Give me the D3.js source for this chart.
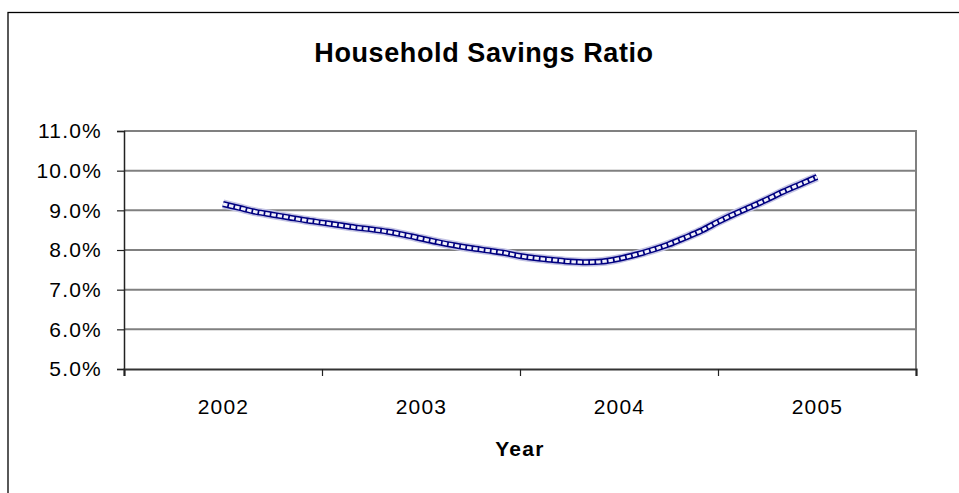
<!DOCTYPE html>
<html>
<head>
<meta charset="utf-8">
<script src="https://cdn.jsdelivr.net/npm/d3@7"></script>
<style>
  html, body { margin: 0; padding: 0; background: #fff; }
  svg { display: block; }
  text { font-family: Arial, "Liberation Sans", sans-serif; fill: #000; }
</style>
</head>
<body>
<svg id="chart" width="959" height="493"></svg>
<script>
// ---- Data ----
const title = "Household Savings Ratio";
const xAxisTitle = "Year";
const categories = [2002, 2003, 2004, 2005];
const yTicks = [5, 6, 7, 8, 9, 10, 11];
// monthly readings, Jan 2002 .. Jan 2005 (percent)
const savingsRatio = [
  9.16, 9.06, 8.96, 8.89, 8.82, 8.75, 8.69, 8.63, 8.57, 8.52, 8.46, 8.38,
  8.29, 8.20, 8.12, 8.05, 7.99, 7.93, 7.85, 7.79, 7.75, 7.71, 7.69, 7.71,
  7.78, 7.88, 8.00, 8.14, 8.31, 8.49, 8.71, 8.91, 9.09, 9.28, 9.48, 9.66,
  9.84
];

// ---- Layout ----
const svg = d3.select("#chart");
const W = 959, H = 493;
const plot = { left: 124, right: 916, top: 131, bottom: 369 };

svg.append("rect").attr("x", 0).attr("y", 0).attr("width", W).attr("height", H).attr("fill", "#fff");

// outer chart border (extends past the visible area on right/bottom)
svg.append("rect")
  .attr("x", 8).attr("y", 12.5).attr("width", 980).attr("height", 520)
  .attr("fill", "none").attr("stroke", "#000").attr("stroke-width", 1.3);

const x = d3.scaleLinear()
  .domain([categories[0] - 0.5, categories[categories.length - 1] + 0.5])
  .range([plot.left, plot.right]);
const y = d3.scaleLinear().domain([5, 11]).range([plot.bottom, plot.top]);

// gridlines
svg.append("g")
  .selectAll("line")
  .data(yTicks.filter(d => d > 5))
  .join("line")
  .attr("x1", plot.left).attr("x2", plot.right)
  .attr("y1", d => y(d)).attr("y2", d => y(d))
  .attr("stroke", "#808080").attr("stroke-width", 2);

// plot area right border
svg.append("line")
  .attr("x1", plot.right).attr("x2", plot.right)
  .attr("y1", plot.top - 1).attr("y2", plot.bottom)
  .attr("stroke", "#808080").attr("stroke-width", 2);

// Y axis
const yAxis = d3.axisLeft(y)
  .tickValues(yTicks)
  .tickSize(7)
  .tickPadding(15)
  .tickFormat(d => d.toFixed(1) + "%");
const gy = svg.append("g").attr("transform", `translate(${plot.left},0)`).call(yAxis);
gy.select(".domain").attr("stroke", "#222").attr("stroke-width", 1.5);
gy.selectAll(".tick line").attr("stroke", "#222").attr("stroke-width", 1.2);
gy.selectAll(".tick text")
  .attr("font-size", 21).attr("font-family", "Arial, 'Liberation Sans', sans-serif")
  .attr("letter-spacing", "1.2px").attr("fill", "#000");

// X axis: boundary ticks
const boundaries = d3.range(categories.length + 1).map(i => categories[0] - 0.5 + i);
const xAxisTicks = d3.axisBottom(x).tickValues(boundaries).tickSize(7).tickFormat("");
const gx = svg.append("g").attr("transform", `translate(0,${plot.bottom})`).call(xAxisTicks);
gx.select(".domain").attr("stroke", "#333").attr("stroke-width", 2.2);
gx.selectAll(".tick line").attr("stroke", "#222").attr("stroke-width", 1.2);

// X axis: category labels
const xAxisLabels = d3.axisBottom(x).tickValues(categories).tickSize(0).tickPadding(30).tickFormat(d => String(d));
const gxl = svg.append("g").attr("transform", `translate(0,${plot.bottom})`).call(xAxisLabels);
gxl.select(".domain").remove();
gxl.selectAll(".tick text")
  .attr("font-size", 21).attr("font-family", "Arial, 'Liberation Sans', sans-serif")
  .attr("letter-spacing", "1.2px").attr("fill", "#000").attr("dy", 0).attr("y", 45);

// title
svg.append("text")
  .attr("x", 484).attr("y", 62)
  .attr("text-anchor", "middle")
  .attr("font-size", 27).attr("font-weight", "bold")
  .attr("letter-spacing", "0.6px")
  .text(title);

// x axis title
svg.append("text")
  .attr("x", (plot.left + plot.right) / 2).attr("y", 456)
  .attr("text-anchor", "middle")
  .attr("font-size", 21).attr("font-weight", "bold")
  .attr("letter-spacing", "1.3px")
  .text(xAxisTitle);

// series line (chain of small square markers look)
const pts = savingsRatio.map((v, i) => ({ t: categories[0] + i / 12, v }));
const line = d3.line().x(d => x(d.t)).y(d => y(d.v)).curve(d3.curveMonotoneX);

svg.append("path").datum(pts).attr("d", line)
  .attr("fill", "none").attr("stroke", "#c4c4e4").attr("stroke-width", 9)
  .attr("stroke-linecap", "butt");
svg.append("path").datum(pts).attr("d", line)
  .attr("fill", "none").attr("stroke", "#000080").attr("stroke-width", 6)
  .attr("stroke-linecap", "butt");
svg.append("path").datum(pts).attr("d", line)
  .attr("fill", "none").attr("stroke", "#f0f0fa").attr("stroke-width", 3)
  .attr("stroke-dasharray", "4.5,1.7")
  .attr("stroke-linecap", "butt");
</script>
</body>
</html>
